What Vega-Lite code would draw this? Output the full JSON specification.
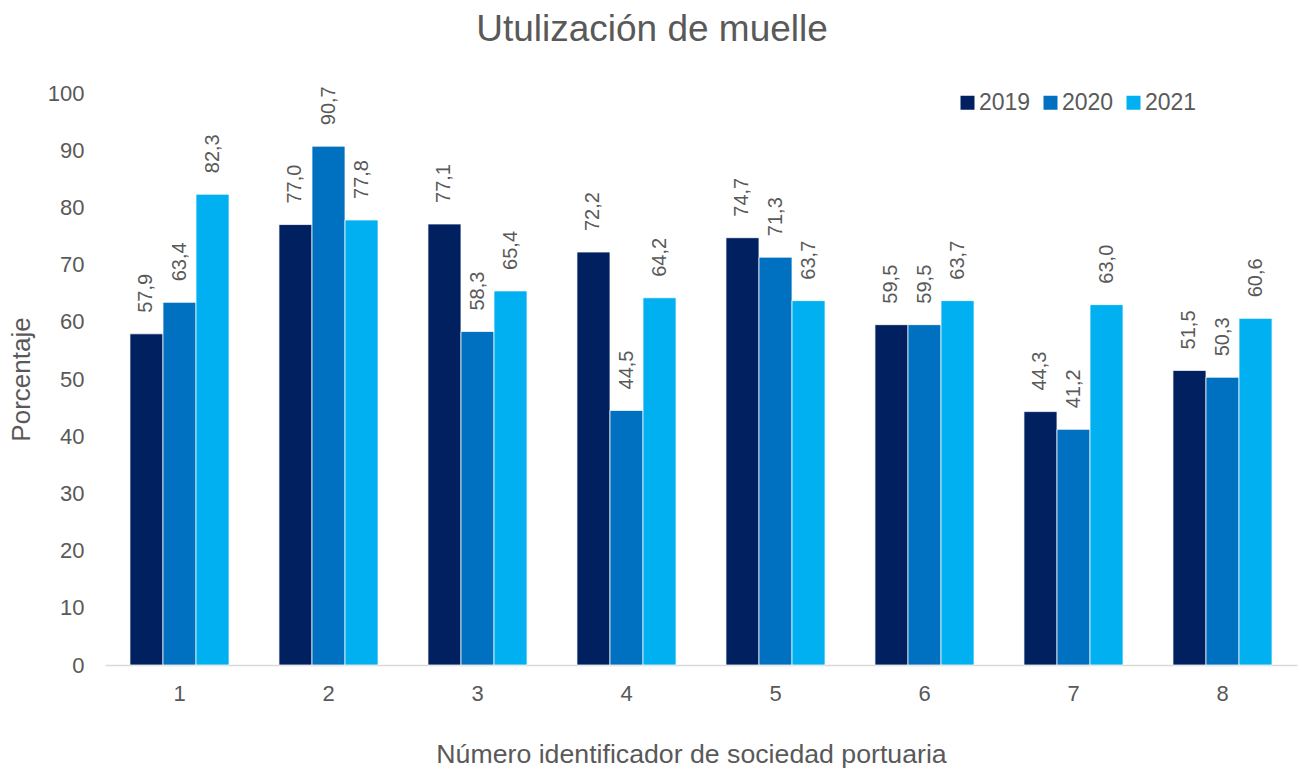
{
  "$schema": "https://vega.github.io/schema/vega-lite/v6.json",
  "autosize": "none",
  "width": 1192,
  "height": 572,
  "padding": {"left": 105, "top": 93, "right": 5, "bottom": 108},
  "title": {
    "text": "Utulización de muelle",
    "anchor": "middle",
    "frame": "group",
    "dx": -49,
    "offset": 33,
    "fontSize": 37,
    "font": "Liberation Sans",
    "fontWeight": "normal",
    "color": "#595959"
  },
  "config": {
    "locale": {"number": {"decimal": ",", "thousands": ".", "grouping": [3], "currency": ["", " €"]}},
    "view": {"stroke": null},
    "font": "Liberation Sans"
  },
  "data": {
    "values": [
      {"sociedad": "1", "anio": "2019", "valor": 57.9},
      {"sociedad": "1", "anio": "2020", "valor": 63.4},
      {"sociedad": "1", "anio": "2021", "valor": 82.3},
      {"sociedad": "2", "anio": "2019", "valor": 77.0},
      {"sociedad": "2", "anio": "2020", "valor": 90.7},
      {"sociedad": "2", "anio": "2021", "valor": 77.8},
      {"sociedad": "3", "anio": "2019", "valor": 77.1},
      {"sociedad": "3", "anio": "2020", "valor": 58.3},
      {"sociedad": "3", "anio": "2021", "valor": 65.4},
      {"sociedad": "4", "anio": "2019", "valor": 72.2},
      {"sociedad": "4", "anio": "2020", "valor": 44.5},
      {"sociedad": "4", "anio": "2021", "valor": 64.2},
      {"sociedad": "5", "anio": "2019", "valor": 74.7},
      {"sociedad": "5", "anio": "2020", "valor": 71.3},
      {"sociedad": "5", "anio": "2021", "valor": 63.7},
      {"sociedad": "6", "anio": "2019", "valor": 59.5},
      {"sociedad": "6", "anio": "2020", "valor": 59.5},
      {"sociedad": "6", "anio": "2021", "valor": 63.7},
      {"sociedad": "7", "anio": "2019", "valor": 44.3},
      {"sociedad": "7", "anio": "2020", "valor": 41.2},
      {"sociedad": "7", "anio": "2021", "valor": 63.0},
      {"sociedad": "8", "anio": "2019", "valor": 51.5},
      {"sociedad": "8", "anio": "2020", "valor": 50.3},
      {"sociedad": "8", "anio": "2021", "valor": 60.6}
    ]
  },
  "encoding": {
    "x": {
      "field": "sociedad",
      "type": "nominal",
      "scale": {"paddingInner": 0.335, "paddingOuter": 0.1675},
      "axis": {
        "title": "Número identificador de sociedad portuaria",
        "titleFontSize": 26.7,
        "titleFontWeight": "normal",
        "titleColor": "#595959",
        "titlePadding": 37,
        "titleX": 586,
        "titleAlign": "center",
        "labelAngle": 0,
        "labelFontSize": 22,
        "labelColor": "#595959",
        "labelPadding": 18,
        "ticks": false,
        "domainColor": "#d9d9d9",
        "domainWidth": 1.5,
        "grid": false
      }
    },
    "xOffset": {"field": "anio", "type": "nominal"},
    "y": {
      "field": "valor",
      "type": "quantitative",
      "scale": {"domain": [0, 100], "nice": false},
      "axis": {
        "title": "Porcentaje",
        "titleFontSize": 26,
        "titleFontWeight": "normal",
        "titleColor": "#595959",
        "titlePadding": 13,
        "values": [0, 10, 20, 30, 40, 50, 60, 70, 80, 90, 100],
        "format": "d",
        "labelFontSize": 22,
        "labelColor": "#595959",
        "labelPadding": 21,
        "ticks": false,
        "domain": false,
        "grid": false
      }
    }
  },
  "layer": [
    {
      "mark": {"type": "bar", "stroke": "white", "strokeWidth": 0.75},
      "encoding": {
        "color": {
          "field": "anio",
          "type": "nominal",
          "scale": {"domain": ["2019", "2020", "2021"], "range": ["#002060", "#0070C0", "#00B0F0"]},
          "legend": {
            "title": null,
            "orient": "none",
            "direction": "horizontal",
            "legendX": 851,
            "legendY": -2,
            "symbolType": "square",
            "symbolSize": 196,
            "symbolStrokeWidth": 0,
            "labelFontSize": 23,
            "labelColor": "#595959",
            "labelOffset": 0,
            "columnPadding": 8
          }
        }
      }
    },
    {
      "mark": {"type": "text", "angle": -90, "align": "left", "baseline": "middle", "dx": 21, "fontSize": 20, "color": "#595959"},
      "encoding": {
        "text": {"field": "valor", "type": "quantitative", "format": ".1f"}
      }
    }
  ]
}
